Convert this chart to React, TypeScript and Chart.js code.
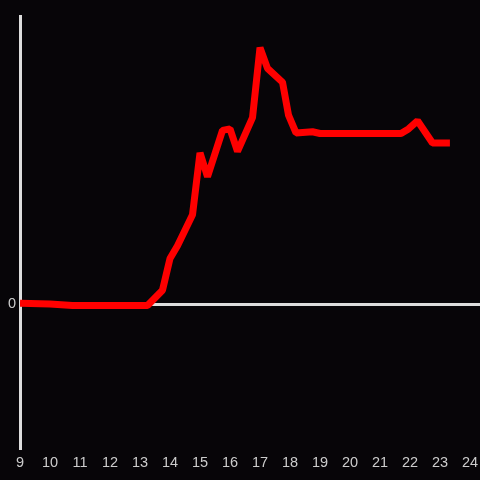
import React, { useEffect, useRef } from "react";
import { Chart, registerables } from "chart.js";

Chart.register(...registerables);

const times = [9, 10, 10.75, 11.5, 12.25, 13.25, 13.75, 14, 14.25, 14.75, 15, 15.25, 15.75, 16, 16.25, 16.75, 17, 17.25, 17.75, 17.95, 18.2, 18.75, 19, 21.7, 21.95, 22.25, 22.75, 23.33];
const values = [0.3, 0, -0.5, -0.5, -0.5, -0.5, 4.8, 15.8, 20.2, 31, 52.5, 44.2, 60.3, 60.8, 53, 64.7, 89, 81.8, 77, 65.6, 59.4, 59.8, 59.2, 59.2, 60.8, 63.6, 55.9, 55.9];
const xTickLabels = [9, 10, 11, 12, 13, 14, 15, 16, 17, 18, 19, 20, 21, 22, 23, 24];
const yTickLabels = [0];

export default function App() {
  const ref = useRef<HTMLCanvasElement | null>(null);
  useEffect(() => {
    document.body.style.margin = "0";
    document.body.style.background = "#070508";
    const ctx = ref.current!;
    const chart = new Chart(ctx, {
      type: "line",
      data: {
        datasets: [
          {
            data: times.map((t, i) => ({ x: t, y: values[i] })),
            borderColor: "#ff0000",
            borderWidth: 7,
            borderJoinStyle: "bevel",
            borderCapStyle: "butt",
            pointRadius: 0,
            tension: 0,
            fill: false,
          },
        ],
      },
      options: {
        responsive: false,
        animation: false,
        layout: { padding: { top: 16, right: 0, left: 0, bottom: 0 } },
        plugins: { legend: { display: false }, tooltip: { enabled: false } },
        scales: {
          x: {
            type: "linear",
            min: 9,
            max: 24.333,
            afterBuildTicks: (s: any) => {
              s.ticks = xTickLabels.map((v) => ({ value: v }));
            },
            afterFit: (s: any) => {
              s.height = 32;
              s.paddingLeft = 0;
              s.paddingRight = 0;
            },
            grid: { display: false, drawTicks: false },
            border: { display: false },
            ticks: {
              color: "#cccccc",
              font: { family: "Liberation Sans", size: 14.5 },
              padding: 6,
              maxRotation: 0,
              autoSkip: false,
            },
          },
          y: {
            min: -50,
            max: 100,
            afterBuildTicks: (s: any) => {
              s.ticks = yTickLabels.map((v) => ({ value: v }));
            },
            afterFit: (s: any) => {
              s.width = 20;
              s.paddingTop = 0;
              s.paddingBottom = 0;
            },
            grid: { color: "#dddddd", lineWidth: 3, drawTicks: false },
            border: { display: true, color: "#dddddd", width: 3 },
            ticks: {
              color: "#cccccc",
              font: { family: "Liberation Sans", size: 14.5 },
              padding: 4,
            },
          },
        },
      },
      plugins: [
        {
          id: "bg",
          beforeDraw: (c: any) => {
            const g = c.ctx;
            g.save();
            g.fillStyle = "#070508";
            g.fillRect(0, 0, c.width, c.height);
            g.restore();
          },
        },
      ],
    });
    return () => chart.destroy();
  }, []);
  return <canvas ref={ref} width={480} height={480} style={{ display: "block" }} />;
}
